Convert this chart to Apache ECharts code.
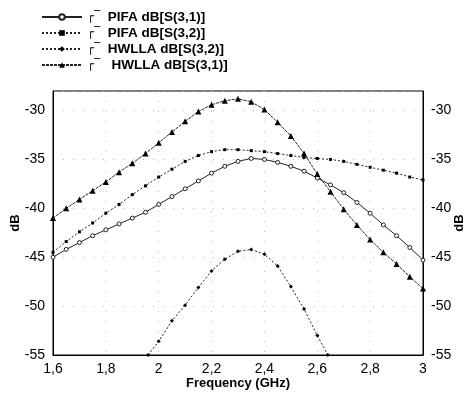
<!DOCTYPE html>
<html>
<head>
<meta charset="utf-8">
<script src="https://cdn.jsdelivr.net/npm/echarts@6/dist/echarts.min.js"></script>
<style>
  html, body { margin: 0; padding: 0; background: #fff; }
  #chart { width: 468px; height: 394px; }
</style>
</head>
<body>
<div id="chart"></div>
<script>
// frequency samples (GHz)
const freqs = [1.60, 1.65, 1.70, 1.75, 1.80, 1.85, 1.90, 1.95, 2.00, 2.05,
               2.10, 2.15, 2.20, 2.25, 2.30, 2.35, 2.40, 2.45, 2.50, 2.55,
               2.60, 2.65, 2.70, 2.75, 2.80, 2.85, 2.90, 2.95, 3.00];

const pifaS31 = [-45.0, -44.2, -43.5, -42.8, -42.2, -41.6, -41.0, -40.4, -39.6, -38.8,
                 -38.0, -37.2, -36.4, -35.7, -35.2, -34.9, -35.0, -35.3, -35.7, -36.2,
                 -36.9, -37.6, -38.4, -39.4, -40.5, -41.7, -42.8, -44.0, -45.3];

const pifaS32 = [-44.5, -43.4, -42.4, -41.5, -40.5, -39.6, -38.6, -37.7, -36.8, -36.0,
                 -35.2, -34.6, -34.2, -34.0, -34.0, -34.1, -34.2, -34.4, -34.6, -34.8,
                 -34.9, -35.0, -35.2, -35.5, -35.8, -36.1, -36.4, -36.8, -37.1];

const hwllaS31 = [-41.0, -40.0, -39.1, -38.2, -37.3, -36.3, -35.4, -34.4, -33.3, -32.2,
                  -31.1, -30.1, -29.4, -29.0, -28.8, -29.1, -29.9, -31.2, -32.6, -34.4,
                  -36.5, -38.3, -40.1, -41.7, -43.2, -44.5, -45.7, -47.0, -48.2];

// HWLLA S(3,2) only shows above -55 dB
const hwllaS32Freqs = [1.96, 2.00, 2.05, 2.10, 2.15, 2.20, 2.25, 2.30, 2.35, 2.40,
                       2.45, 2.50, 2.55, 2.60, 2.64];
const hwllaS32 = [-55.0, -53.6, -51.5, -49.9, -48.1, -46.4, -45.2, -44.4, -44.2, -44.7,
                  -45.9, -48.0, -50.3, -53.0, -55.0];

const names = ['PIFA dB[S(3,1)]', 'PIFA dB[S(3,2)]', 'HWLLA dB[S(3,2)]', 'HWLLA dB[S(3,1)]'];

function pairs(xs, ys) {
    return xs.map((x, i) => [x, ys[i]]);
}

const tickFont = "'Liberation Sans Narrow', 'Arial Narrow', 'Liberation Sans', sans-serif";
const boldFont = "'Liberation Sans', Arial, sans-serif";

const chart = echarts.init(document.getElementById('chart'));

function yAxis(pos) {
    return {
        type: 'value',
        position: pos,
        min: -55,
        max: -28,
        interval: 5,
        name: 'dB',
        nameLocation: 'middle',
        nameRotate: 90,
        nameMoveOverlap: false,
        nameGap: pos === 'left' ? 31 : 30,
        nameTextStyle: { fontFamily: boldFont, fontWeight: 'bold', fontSize: 13, color: '#000' },
        axisLine: { show: true, lineStyle: { color: '#000', width: 1 } },
        axisTick: { show: false },
        axisLabel: {
            showMaxLabel: false,
            margin: 8,
            fontFamily: tickFont,
            fontSize: 14,
            color: '#000'
        },
        splitLine: {
            show: pos === 'left',
            lineStyle: { color: '#bbb', width: 1, type: [1, 9] }
        }
    };
}

const lineBase = {
    type: 'line',
    showAllSymbol: true,
    smooth: false,
    animation: false
};

const option = {
    animation: false,
    backgroundColor: '#fff',
    grid: {
        left: 53,
        right: 45,
        top: 91,
        bottom: 39,
        outerBoundsMode: 'none',
        show: true,
        borderColor: '#000',
        borderWidth: 1
    },
    legend: {
        orient: 'vertical',
        left: 36,
        top: 5,
        itemWidth: 40,
        itemHeight: 7,
        itemGap: 2,
        data: names,
        formatter: name => '{b|┌‾}  ' + (name === names[3] ? ' ' : '') + name,
        textStyle: {
            fontFamily: boldFont,
            fontWeight: 'bold',
            fontSize: 13.5,
            lineHeight: 14,
            color: '#000',
            rich: {
                b: { fontSize: 12, fontWeight: 'normal', color: '#000', fontFamily: 'DejaVu Sans' }
            }
        }
    },
    xAxis: {
        type: 'value',
        min: 1.6,
        max: 3,
        interval: 0.2,
        name: 'Frequency (GHz)',
        nameLocation: 'middle',
        nameMoveOverlap: false,
        nameGap: 22,
        nameTextStyle: { fontFamily: boldFont, fontWeight: 'bold', fontSize: 13, color: '#000' },
        axisLine: { show: true, lineStyle: { color: '#000', width: 1 } },
        axisTick: { show: false },
        axisLabel: {
            margin: 7,
            fontFamily: tickFont,
            fontSize: 14,
            color: '#000',
            formatter: v => (Math.round(v * 10) / 10).toString().replace('.', ',')
        },
        splitLine: {
            show: true,
            lineStyle: { color: '#bbb', width: 1, type: [1, 9] }
        }
    },
    yAxis: [yAxis('left'), yAxis('right')],
    series: [
        Object.assign({}, lineBase, {
            name: names[0],
            data: pairs(freqs, pifaS31),
            symbol: 'circle',
            symbolSize: 4,
            itemStyle: { color: '#fff', borderColor: '#222', borderWidth: 1 },
            lineStyle: { color: '#222', width: 1 }
        }),
        Object.assign({}, lineBase, {
            name: names[1],
            data: pairs(freqs, pifaS32),
            symbol: 'rect',
            symbolSize: 3,
            itemStyle: { color: '#000' },
            lineStyle: { color: '#222', width: 1, type: [2, 2] }
        }),
        Object.assign({}, lineBase, {
            name: names[2],
            data: pairs(hwllaS32Freqs, hwllaS32),
            symbol: 'diamond',
            symbolSize: 4,
            itemStyle: { color: '#000' },
            lineStyle: { color: '#222', width: 1, type: [2, 2] }
        }),
        Object.assign({}, lineBase, {
            name: names[3],
            data: pairs(freqs, hwllaS31),
            symbol: 'triangle',
            symbolSize: 6,
            itemStyle: { color: '#000' },
            lineStyle: { color: '#222', width: 1, type: [3, 1] }
        })
    ]
};

chart.setOption(option);
</script>
</body>
</html>
